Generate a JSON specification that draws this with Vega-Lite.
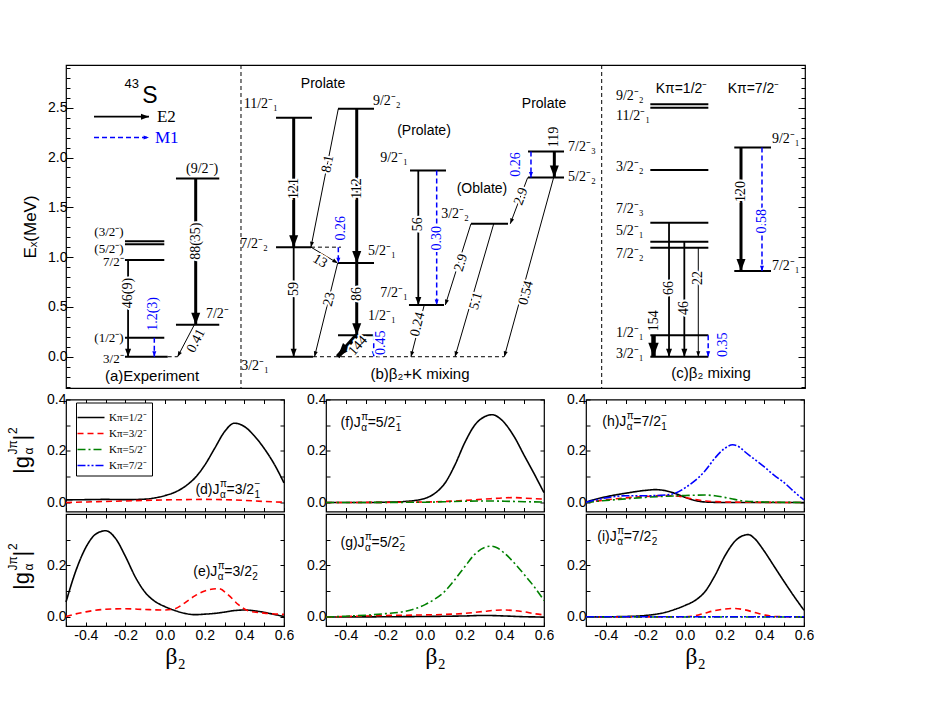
{
"$schema":"https://vega.github.io/schema/vega-lite/v6.json",
"background":"white",
"padding":{"left":6,"top":60,"right":5,"bottom":5},
"config":{
 "view":{"stroke":"black","strokeWidth":1.2},
 "axis":{"domain":false,"grid":false,"labelFont":"Liberation Sans","labelFontSize":14,"labelColor":"black","tickColor":"black","tickWidth":1,"titleFont":"Liberation Sans","titleFontWeight":"normal","titleColor":"black"},
 "text":{"font":"Liberation Sans","color":"black"}
},
"datasets":{
"sep":[{"x":23.68},{"x":72.49}],
"gd":[{"x1":13.76,"x2":15.1,"e":0},{"x1":33.42,"x2":59.27,"e":0},{"x1":33.15,"x2":37.21,"e":1.1}],
"lv":[
{"x1":7.98,"x2":13.3,"e":1.16},{"x1":7.98,"x2":13.3,"e":1.13},{"x1":7.98,"x2":13.3,"e":0.97},{"x1":7.98,"x2":13.3,"e":0.19},{"x1":7.98,"x2":13.76,"e":0},
{"x1":14.88,"x2":20.74,"e":1.79},{"x1":14.88,"x2":20.74,"e":0.32},
{"x1":28.42,"x2":33.29,"e":2.4},{"x1":28.42,"x2":33.15,"e":1.1},{"x1":28.42,"x2":33.42,"e":0},
{"x1":36.81,"x2":41.68,"e":2.49},{"x1":36.81,"x2":41.68,"e":0.94},{"x1":36.81,"x2":41.68,"e":0.215},
{"x1":46.55,"x2":51.42,"e":1.87},{"x1":46.41,"x2":51.15,"e":0.52},{"x1":54.8,"x2":59.81,"e":1.335},
{"x1":62.52,"x2":67.39,"e":2.06},{"x1":62.52,"x2":67.39,"e":1.8},
{"x1":79.07,"x2":86.92,"e":2.534},{"x1":79.07,"x2":86.92,"e":2.5},{"x1":79.07,"x2":86.92,"e":1.875},{"x1":79.07,"x2":86.92,"e":1.345},
{"x1":79.07,"x2":86.92,"e":1.155},{"x1":79.07,"x2":86.92,"e":1.095},{"x1":79.07,"x2":86.92,"e":0.215},{"x1":79.07,"x2":86.92,"e":0},
{"x1":90.43,"x2":95.4,"e":2.1},{"x1":90.43,"x2":95.4,"e":0.86}],
"tr":[
{"t":"E2","I":50,"x1":3.79,"e1":2.41,"x2":11.23,"e2":2.41,"lab":"","lx":0,"le":0},
{"t":"M1","I":0.5,"x1":3.79,"e1":2.2,"x2":11.23,"e2":2.2,"lab":"","lx":0,"le":0},
{"t":"E2","I":46,"x1":8.4,"e1":0.97,"x2":8.4,"e2":0,"lab":"46(9)","lx":8.4,"le":0.64},
{"t":"M1","I":1.2,"x1":11.95,"e1":0.19,"x2":11.95,"e2":0,"lab":"1.2(3)","lx":11.73,"le":0.43},
{"t":"E2","I":88,"x1":17.55,"e1":1.79,"x2":17.55,"e2":0.32,"lab":"88(35)","lx":17.55,"le":1.16},
{"t":"E2","I":0.41,"x1":17.36,"e1":0.32,"x2":15.1,"e2":0,"lab":"0.41","lx":17.6,"le":0.16},
{"t":"E2","I":121,"x1":30.81,"e1":2.4,"x2":30.81,"e2":1.1,"lab":"121","lx":30.81,"le":1.69},
{"t":"E2","I":59,"x1":30.81,"e1":1.1,"x2":30.81,"e2":0,"lab":"59","lx":30.81,"le":0.68},
{"t":"E2","I":112,"x1":39.34,"e1":2.49,"x2":39.34,"e2":0.94,"lab":"112","lx":39.34,"le":1.69},
{"t":"E2","I":86,"x1":39.34,"e1":0.94,"x2":39.34,"e2":0.215,"lab":"86","lx":39.34,"le":0.63},
{"t":"E2","I":144,"x1":39.34,"e1":0.215,"x2":36.76,"e2":0,"lab":"144","lx":39.5,"le":0.11},
{"t":"M1","I":0.45,"x1":41.64,"e1":0.215,"x2":41.64,"e2":0,"lab":"0.45","lx":42.69,"le":0.14},
{"t":"E2","I":8.1,"x1":36.85,"e1":2.49,"x2":33.15,"e2":1.1,"lab":"8.1","lx":35.41,"le":1.935},
{"t":"M1","I":0.26,"x1":36.85,"e1":1.1,"x2":36.85,"e2":0.94,"lab":"0.26","lx":37.21,"le":1.29},
{"t":"E2","I":13,"x1":33.15,"e1":1.1,"x2":36.76,"e2":0.94,"lab":"13","lx":34.37,"le":0.96},
{"t":"E2","I":23,"x1":36.76,"e1":0.94,"x2":33.63,"e2":0,"lab":"23","lx":35.63,"le":0.576},
{"t":"E2","I":56,"x1":47.67,"e1":1.87,"x2":47.67,"e2":0.52,"lab":"56","lx":47.67,"le":1.33},
{"t":"M1","I":0.3,"x1":50.16,"e1":1.87,"x2":50.16,"e2":0.52,"lab":"0.30","lx":50.16,"le":1.19},
{"t":"E2","I":0.24,"x1":48.48,"e1":0.52,"x2":46.68,"e2":0,"lab":"0.24","lx":47.58,"le":0.325},
{"t":"E2","I":2.9,"x1":54.8,"e1":1.335,"x2":51.33,"e2":0.52,"lab":"2.9","lx":53.45,"le":0.944},
{"t":"E2","I":5.1,"x1":57.88,"e1":1.335,"x2":52.64,"e2":0,"lab":"5.1","lx":55.48,"le":0.56},
{"t":"E2","I":119,"x1":66.08,"e1":2.06,"x2":66.08,"e2":1.8,"lab":"119","lx":66.08,"le":2.205},
{"t":"M1","I":0.26,"x1":62.92,"e1":2.06,"x2":62.92,"e2":1.8,"lab":"0.26","lx":60.89,"le":1.93},
{"t":"E2","I":2.9,"x1":62.48,"e1":1.8,"x2":60.12,"e2":1.335,"lab":"2.9","lx":61.57,"le":1.61},
{"t":"E2","I":0.54,"x1":65.99,"e1":1.8,"x2":59.31,"e2":0,"lab":"0.54","lx":62.25,"le":0.64},
{"t":"E2","I":154,"x1":79.5,"e1":0.215,"x2":79.5,"e2":0,"lab":"154","lx":79.5,"le":0.36},
{"t":"E2","I":66,"x1":81.6,"e1":1.345,"x2":81.6,"e2":0,"lab":"66","lx":81.6,"le":0.69},
{"t":"E2","I":46,"x1":83.67,"e1":1.155,"x2":83.67,"e2":0,"lab":"46","lx":83.67,"le":0.49},
{"t":"E2","I":22,"x1":85.56,"e1":1.095,"x2":85.56,"e2":0,"lab":"22","lx":85.56,"le":0.79},
{"t":"M1","I":0.35,"x1":86.9,"e1":0.215,"x2":86.9,"e2":0,"lab":"0.35","lx":88.86,"le":0.12},
{"t":"E2","I":120,"x1":91.34,"e1":2.1,"x2":91.34,"e2":0.86,"lab":"120","lx":91.34,"le":1.66},
{"t":"M1","I":0.58,"x1":94.18,"e1":2.1,"x2":94.18,"e2":0.86,"lab":"0.58","lx":94.18,"le":1.36}],
"tx":[
{"t":"(3/2⁻)","x":7.8,"e":1.25,"k":"r"},{"t":"(5/2⁻)","x":7.8,"e":1.085,"k":"r"},{"t":"7/2⁻","x":7.8,"e":0.95,"k":"r"},
{"t":"(1/2⁻)","x":7.8,"e":0.19,"k":"r"},{"t":"3/2⁻","x":7.8,"e":-0.026,"k":"r"},
{"t":"11/2⁻₁","x":28.69,"e":2.54,"k":"R"},{"t":"9/2⁻₁","x":46.28,"e":1.995,"k":"R"},{"t":"3/2⁻₂","x":54.53,"e":1.43,"k":"R"},
{"t":"7/2⁻₂","x":27.33,"e":1.13,"k":"R"},{"t":"7/2⁻₁","x":46.28,"e":0.64,"k":"R"},{"t":"3/2⁻₁","x":27.47,"e":-0.09,"k":"R"},
{"t":"(9/2⁻)","x":16.24,"e":1.88,"k":"L"},{"t":"7/2⁻","x":18.94,"e":0.43,"k":"L"},
{"t":"9/2⁻₂","x":41.54,"e":2.57,"k":"L"},{"t":"5/2⁻₁","x":40.87,"e":1.06,"k":"L"},{"t":"1/2⁻₁","x":40.87,"e":0.41,"k":"L"},
{"t":"7/2⁻₃","x":67.93,"e":2.105,"k":"L"},{"t":"5/2⁻₂","x":67.93,"e":1.8,"k":"L"},
{"t":"9/2⁻₂","x":74.42,"e":2.62,"k":"L"},{"t":"11/2⁻₁","x":74.42,"e":2.42,"k":"L"},{"t":"3/2⁻₂","x":74.42,"e":1.9,"k":"L"},
{"t":"7/2⁻₃","x":74.42,"e":1.48,"k":"L"},{"t":"5/2⁻₁","x":74.42,"e":1.26,"k":"L"},{"t":"7/2⁻₂","x":74.42,"e":1.03,"k":"L"},
{"t":"1/2⁻₁","x":74.42,"e":0.24,"k":"L"},{"t":"3/2⁻₁","x":74.42,"e":0.03,"k":"L"},
{"t":"9/2⁻₁","x":95.53,"e":2.186,"k":"L"},{"t":"7/2⁻₁","x":95.53,"e":0.91,"k":"L"},
{"t":"Prolate","x":34.78,"e":2.74,"k":"C"},{"t":"(Prolate)","x":48.44,"e":2.27,"k":"C"},{"t":"(Oblate)","x":56.29,"e":1.68,"k":"C"},
{"t":"Prolate","x":64.68,"e":2.54,"k":"C"},{"t":"Kπ=1/2⁻","x":83.29,"e":2.685,"k":"C"},{"t":"Kπ=7/2⁻","x":93.03,"e":2.685,"k":"C"},
{"t":"S","x":11.37,"e":2.62,"k":"S"},{"t":"43","x":8.9,"e":2.74,"k":"N"},
{"t":"E2","x":12.3,"e":2.41,"k":"E"},{"t":"M1","x":12.04,"e":2.2,"k":"M"}],
"cap":[{"t":"(a)Experiment","x":11.64,"e":-0.194},{"t":"(b)β₂+K mixing","x":47.9,"e":-0.174},{"t":"(c)β₂ mixing","x":87.28,"e":-0.16}],
"pl":[
{"p":"d","t":"(d)J","n":"=3/2","s":"1","b":0.153,"v":0.049},
{"p":"e","t":"(e)J","n":"=3/2","s":"2","b":0.142,"v":0.176},
{"p":"f","t":"(f)J","n":"=5/2","s":"1","b":-0.427,"v":0.308},
{"p":"g","t":"(g)J","n":"=5/2","s":"2","b":-0.427,"v":0.286},
{"p":"h","t":"(h)J","n":"=7/2","s":"1","b":-0.418,"v":0.314},
{"p":"i","t":"(i)J","n":"=7/2","s":"2","b":-0.443,"v":0.312}],
"yt":[{"p":"d","b":-0.7195,"v":0.111},{"p":"e","b":-0.7195,"v":0.105}],
"cv":[
{"p":"d","K":"1","b":-0.5,"v":0.010},{"p":"d","K":"1","b":-0.4,"v":0.011},{"p":"d","K":"1","b":-0.3,"v":0.012},{"p":"d","K":"1","b":-0.2,"v":0.011},{"p":"d","K":"1","b":-0.1,"v":0.013},{"p":"d","K":"1","b":-0.05,"v":0.018},{"p":"d","K":"1","b":0,"v":0.027},{"p":"d","K":"1","b":0.05,"v":0.04},{"p":"d","K":"1","b":0.1,"v":0.062},{"p":"d","K":"1","b":0.15,"v":0.095},{"p":"d","K":"1","b":0.2,"v":0.145},{"p":"d","K":"1","b":0.25,"v":0.21},{"p":"d","K":"1","b":0.3,"v":0.275},{"p":"d","K":"1","b":0.35,"v":0.308},{"p":"d","K":"1","b":0.4,"v":0.295},{"p":"d","K":"1","b":0.45,"v":0.259},{"p":"d","K":"1","b":0.5,"v":0.21},{"p":"d","K":"1","b":0.55,"v":0.15},{"p":"d","K":"1","b":0.6,"v":0.076},
{"p":"d","K":"3","b":-0.5,"v":0},{"p":"d","K":"3","b":-0.4,"v":0.002},{"p":"d","K":"3","b":-0.3,"v":0.004},{"p":"d","K":"3","b":-0.2,"v":0.006},{"p":"d","K":"3","b":-0.1,"v":0.008},{"p":"d","K":"3","b":0,"v":0.01},{"p":"d","K":"3","b":0.1,"v":0.011},{"p":"d","K":"3","b":0.2,"v":0.012},{"p":"d","K":"3","b":0.3,"v":0.011},{"p":"d","K":"3","b":0.4,"v":0.008},{"p":"d","K":"3","b":0.5,"v":0.004},{"p":"d","K":"3","b":0.6,"v":0.001},
{"p":"e","K":"1","b":-0.5,"v":0.058},{"p":"e","K":"1","b":-0.45,"v":0.18},{"p":"e","K":"1","b":-0.4,"v":0.27},{"p":"e","K":"1","b":-0.35,"v":0.322},{"p":"e","K":"1","b":-0.3,"v":0.335},{"p":"e","K":"1","b":-0.25,"v":0.305},{"p":"e","K":"1","b":-0.2,"v":0.235},{"p":"e","K":"1","b":-0.15,"v":0.155},{"p":"e","K":"1","b":-0.1,"v":0.095},{"p":"e","K":"1","b":-0.05,"v":0.06},{"p":"e","K":"1","b":0,"v":0.04},{"p":"e","K":"1","b":0.05,"v":0.025},{"p":"e","K":"1","b":0.1,"v":0.014},{"p":"e","K":"1","b":0.15,"v":0.009},{"p":"e","K":"1","b":0.2,"v":0.011},{"p":"e","K":"1","b":0.25,"v":0.014},{"p":"e","K":"1","b":0.3,"v":0.019},{"p":"e","K":"1","b":0.35,"v":0.025},{"p":"e","K":"1","b":0.4,"v":0.027},{"p":"e","K":"1","b":0.45,"v":0.024},{"p":"e","K":"1","b":0.5,"v":0.018},{"p":"e","K":"1","b":0.55,"v":0.01},{"p":"e","K":"1","b":0.6,"v":0.002},
{"p":"e","K":"3","b":-0.5,"v":0.002},{"p":"e","K":"3","b":-0.45,"v":0.012},{"p":"e","K":"3","b":-0.4,"v":0.02},{"p":"e","K":"3","b":-0.3,"v":0.03},{"p":"e","K":"3","b":-0.2,"v":0.032},{"p":"e","K":"3","b":-0.1,"v":0.029},{"p":"e","K":"3","b":0,"v":0.027},{"p":"e","K":"3","b":0.05,"v":0.032},{"p":"e","K":"3","b":0.1,"v":0.055},{"p":"e","K":"3","b":0.15,"v":0.082},{"p":"e","K":"3","b":0.2,"v":0.101},{"p":"e","K":"3","b":0.27,"v":0.11},{"p":"e","K":"3","b":0.32,"v":0.085},{"p":"e","K":"3","b":0.37,"v":0.048},{"p":"e","K":"3","b":0.42,"v":0.024},{"p":"e","K":"3","b":0.5,"v":0.015},{"p":"e","K":"3","b":0.6,"v":0.01},
{"p":"f","K":"1","b":-0.5,"v":0},{"p":"f","K":"1","b":-0.3,"v":0},{"p":"f","K":"1","b":-0.2,"v":0.001},{"p":"f","K":"1","b":-0.1,"v":0.004},{"p":"f","K":"1","b":-0.05,"v":0.008},{"p":"f","K":"1","b":0,"v":0.016},{"p":"f","K":"1","b":0.05,"v":0.036},{"p":"f","K":"1","b":0.1,"v":0.075},{"p":"f","K":"1","b":0.15,"v":0.145},{"p":"f","K":"1","b":0.2,"v":0.232},{"p":"f","K":"1","b":0.25,"v":0.3},{"p":"f","K":"1","b":0.3,"v":0.333},{"p":"f","K":"1","b":0.34,"v":0.341},{"p":"f","K":"1","b":0.38,"v":0.325},{"p":"f","K":"1","b":0.45,"v":0.255},{"p":"f","K":"1","b":0.5,"v":0.183},{"p":"f","K":"1","b":0.55,"v":0.112},{"p":"f","K":"1","b":0.6,"v":0.038},
{"p":"f","K":"3","b":-0.5,"v":0},{"p":"f","K":"3","b":-0.1,"v":0.001},{"p":"f","K":"3","b":0,"v":0.002},{"p":"f","K":"3","b":0.1,"v":0.004},{"p":"f","K":"3","b":0.2,"v":0.008},{"p":"f","K":"3","b":0.3,"v":0.013},{"p":"f","K":"3","b":0.4,"v":0.018},{"p":"f","K":"3","b":0.45,"v":0.019},{"p":"f","K":"3","b":0.5,"v":0.017},{"p":"f","K":"3","b":0.6,"v":0.013},
{"p":"f","K":"5","b":-0.5,"v":0},{"p":"f","K":"5","b":0,"v":0.001},{"p":"f","K":"5","b":0.1,"v":0.003},{"p":"f","K":"5","b":0.2,"v":0.005},{"p":"f","K":"5","b":0.3,"v":0.006},{"p":"f","K":"5","b":0.4,"v":0.005},{"p":"f","K":"5","b":0.5,"v":0.003},{"p":"f","K":"5","b":0.6,"v":0.002},
{"p":"g","K":"1","b":-0.5,"v":0},{"p":"g","K":"1","b":0,"v":0.002},{"p":"g","K":"1","b":0.2,"v":0.004},{"p":"g","K":"1","b":0.3,"v":0.006},{"p":"g","K":"1","b":0.4,"v":0.004},{"p":"g","K":"1","b":0.5,"v":0.001},{"p":"g","K":"1","b":0.6,"v":0},
{"p":"g","K":"3","b":-0.5,"v":0},{"p":"g","K":"3","b":-0.3,"v":0.004},{"p":"g","K":"3","b":-0.2,"v":0.006},{"p":"g","K":"3","b":-0.1,"v":0.007},{"p":"g","K":"3","b":0,"v":0.008},{"p":"g","K":"3","b":0.1,"v":0.01},{"p":"g","K":"3","b":0.2,"v":0.014},{"p":"g","K":"3","b":0.3,"v":0.022},{"p":"g","K":"3","b":0.35,"v":0.026},{"p":"g","K":"3","b":0.4,"v":0.027},{"p":"g","K":"3","b":0.45,"v":0.025},{"p":"g","K":"3","b":0.5,"v":0.02},{"p":"g","K":"3","b":0.55,"v":0.013},{"p":"g","K":"3","b":0.6,"v":0.008},
{"p":"g","K":"5","b":-0.5,"v":0},{"p":"g","K":"5","b":-0.4,"v":0.003},{"p":"g","K":"5","b":-0.3,"v":0.007},{"p":"g","K":"5","b":-0.2,"v":0.013},{"p":"g","K":"5","b":-0.1,"v":0.022},{"p":"g","K":"5","b":-0.05,"v":0.032},{"p":"g","K":"5","b":0,"v":0.048},{"p":"g","K":"5","b":0.05,"v":0.07},{"p":"g","K":"5","b":0.1,"v":0.1},{"p":"g","K":"5","b":0.15,"v":0.145},{"p":"g","K":"5","b":0.2,"v":0.195},{"p":"g","K":"5","b":0.25,"v":0.243},{"p":"g","K":"5","b":0.3,"v":0.27},{"p":"g","K":"5","b":0.33,"v":0.275},{"p":"g","K":"5","b":0.36,"v":0.27},{"p":"g","K":"5","b":0.4,"v":0.248},{"p":"g","K":"5","b":0.45,"v":0.21},{"p":"g","K":"5","b":0.5,"v":0.165},{"p":"g","K":"5","b":0.55,"v":0.118},{"p":"g","K":"5","b":0.6,"v":0.064},
{"p":"h","K":"1","b":-0.5,"v":0.002},{"p":"h","K":"1","b":-0.4,"v":0.022},{"p":"h","K":"1","b":-0.3,"v":0.036},{"p":"h","K":"1","b":-0.2,"v":0.047},{"p":"h","K":"1","b":-0.15,"v":0.05},{"p":"h","K":"1","b":-0.1,"v":0.046},{"p":"h","K":"1","b":-0.05,"v":0.035},{"p":"h","K":"1","b":0,"v":0.02},{"p":"h","K":"1","b":0.05,"v":0.008},{"p":"h","K":"1","b":0.1,"v":0.002},{"p":"h","K":"1","b":0.2,"v":0},{"p":"h","K":"1","b":0.4,"v":0},{"p":"h","K":"1","b":0.6,"v":0},
{"p":"h","K":"3","b":-0.5,"v":0},{"p":"h","K":"3","b":-0.4,"v":0.01},{"p":"h","K":"3","b":-0.3,"v":0.018},{"p":"h","K":"3","b":-0.2,"v":0.023},{"p":"h","K":"3","b":-0.1,"v":0.027},{"p":"h","K":"3","b":0,"v":0.02},{"p":"h","K":"3","b":0.05,"v":0.012},{"p":"h","K":"3","b":0.1,"v":0.006},{"p":"h","K":"3","b":0.2,"v":0.002},{"p":"h","K":"3","b":0.3,"v":0.001},{"p":"h","K":"3","b":0.6,"v":0},
{"p":"h","K":"5","b":-0.5,"v":0},{"p":"h","K":"5","b":-0.4,"v":0.008},{"p":"h","K":"5","b":-0.3,"v":0.014},{"p":"h","K":"5","b":-0.2,"v":0.02},{"p":"h","K":"5","b":-0.1,"v":0.024},{"p":"h","K":"5","b":0,"v":0.027},{"p":"h","K":"5","b":0.1,"v":0.029},{"p":"h","K":"5","b":0.15,"v":0.026},{"p":"h","K":"5","b":0.2,"v":0.02},{"p":"h","K":"5","b":0.25,"v":0.012},{"p":"h","K":"5","b":0.3,"v":0.005},{"p":"h","K":"5","b":0.4,"v":0.002},{"p":"h","K":"5","b":0.6,"v":0},
{"p":"h","K":"7","b":-0.5,"v":0.001},{"p":"h","K":"7","b":-0.4,"v":0.018},{"p":"h","K":"7","b":-0.3,"v":0.026},{"p":"h","K":"7","b":-0.2,"v":0.026},{"p":"h","K":"7","b":-0.1,"v":0.029},{"p":"h","K":"7","b":-0.05,"v":0.036},{"p":"h","K":"7","b":0,"v":0.057},{"p":"h","K":"7","b":0.05,"v":0.085},{"p":"h","K":"7","b":0.1,"v":0.122},{"p":"h","K":"7","b":0.15,"v":0.172},{"p":"h","K":"7","b":0.2,"v":0.21},{"p":"h","K":"7","b":0.24,"v":0.224},{"p":"h","K":"7","b":0.28,"v":0.212},{"p":"h","K":"7","b":0.3,"v":0.198},{"p":"h","K":"7","b":0.35,"v":0.168},{"p":"h","K":"7","b":0.4,"v":0.138},{"p":"h","K":"7","b":0.45,"v":0.105},{"p":"h","K":"7","b":0.5,"v":0.077},{"p":"h","K":"7","b":0.55,"v":0.042},{"p":"h","K":"7","b":0.6,"v":0.01},
{"p":"i","K":"1","b":-0.5,"v":0},{"p":"i","K":"1","b":-0.3,"v":0.002},{"p":"i","K":"1","b":-0.2,"v":0.006},{"p":"i","K":"1","b":-0.1,"v":0.018},{"p":"i","K":"1","b":-0.05,"v":0.03},{"p":"i","K":"1","b":0,"v":0.045},{"p":"i","K":"1","b":0.05,"v":0.064},{"p":"i","K":"1","b":0.1,"v":0.098},{"p":"i","K":"1","b":0.15,"v":0.16},{"p":"i","K":"1","b":0.2,"v":0.236},{"p":"i","K":"1","b":0.25,"v":0.293},{"p":"i","K":"1","b":0.3,"v":0.318},{"p":"i","K":"1","b":0.32,"v":0.32},{"p":"i","K":"1","b":0.35,"v":0.305},{"p":"i","K":"1","b":0.4,"v":0.255},{"p":"i","K":"1","b":0.45,"v":0.196},{"p":"i","K":"1","b":0.5,"v":0.137},{"p":"i","K":"1","b":0.55,"v":0.08},{"p":"i","K":"1","b":0.6,"v":0.026},
{"p":"i","K":"3","b":-0.5,"v":0},{"p":"i","K":"3","b":0,"v":0.001},{"p":"i","K":"3","b":0.05,"v":0.005},{"p":"i","K":"3","b":0.1,"v":0.015},{"p":"i","K":"3","b":0.15,"v":0.025},{"p":"i","K":"3","b":0.2,"v":0.031},{"p":"i","K":"3","b":0.25,"v":0.033},{"p":"i","K":"3","b":0.3,"v":0.028},{"p":"i","K":"3","b":0.35,"v":0.018},{"p":"i","K":"3","b":0.4,"v":0.008},{"p":"i","K":"3","b":0.45,"v":0.002},{"p":"i","K":"3","b":0.6,"v":0},
{"p":"i","K":"5","b":-0.5,"v":0},{"p":"i","K":"5","b":0,"v":0},{"p":"i","K":"5","b":0.6,"v":0},
{"p":"i","K":"7","b":-0.5,"v":0.001},{"p":"i","K":"7","b":0,"v":0.001},{"p":"i","K":"7","b":0.6,"v":0.001}]
},
"spacing":-3.5,
"resolve":{"scale":{"color":"independent","strokeDash":"independent"}},
"vconcat":[
{"width":739,"height":323,
 "layer":[
   {"data":{"name":"sep"},"mark":{"type":"rule","strokeDash":[4,3],"color":"black","strokeWidth":1},
    "encoding":{"x":{"field":"x","type":"quantitative","scale":{"domain":[0,100]},"axis":null}}},
   {"data":{"name":"gd"},"mark":{"type":"rule","strokeDash":[4,3],"color":"black","strokeWidth":1},
    "encoding":{"x":{"field":"x1","type":"quantitative","scale":{"domain":[0,100]},"axis":null},"x2":{"field":"x2"},
     "y":{"field":"e","type":"quantitative","scale":{"domain":[-0.314,2.929]},"axis":null}}},
   {"data":{"name":"lv"},"mark":{"type":"rule","strokeWidth":2,"color":"black"},
    "encoding":{"x":{"field":"x1","type":"quantitative","scale":{"domain":[0,100]},"axis":null},"x2":{"field":"x2"},
     "y":{"field":"e","type":"quantitative","scale":{"domain":[-0.314,2.929]},
      "axis":{"orient":"left","values":[-0.3,-0.2,-0.1,0,0.1,0.2,0.3,0.4,0.5,0.6,0.7,0.8,0.9,1,1.1,1.2,1.3,1.4,1.5,1.6,1.7,1.8,1.9,2,2.1,2.2,2.3,2.4,2.5,2.6,2.7,2.8,2.9],
       "labelExpr":"abs(datum.value*2-round(datum.value*2))<0.01 ? format(datum.value,'.1f') : ''","labelOverlap":false,
       "tickSize":{"condition":{"test":"abs(datum.value*2-round(datum.value*2))<0.01","value":-7},"value":-4},
       "labelPadding":6,"title":"Eₓ(MeV)","titleFontSize":17,"titlePadding":8}}}},
   {"data":{"name":"tr"},"transform":[{"filter":"datum.t=='E2'"}],"mark":{"type":"rule","color":"black"},
    "encoding":{"x":{"field":"x1","type":"quantitative","scale":{"domain":[0,100]},"axis":null},"x2":{"field":"x2"},
     "y":{"field":"e1","type":"quantitative","scale":{"domain":[-0.314,2.929]},"axis":null},"y2":{"field":"e2"},
     "strokeWidth":{"field":"I","type":"quantitative","scale":{"type":"threshold","domain":[30,70,140],"range":[1,1.8,3,4.5]},"legend":null}}},
   {"data":{"name":"tr"},"transform":[{"filter":"datum.t=='M1'"}],"mark":{"type":"rule","color":"#0000ff","strokeDash":[5,3],"strokeWidth":1.5},
    "encoding":{"x":{"field":"x1","type":"quantitative","scale":{"domain":[0,100]},"axis":null},"x2":{"field":"x2"},
     "y":{"field":"e1","type":"quantitative","scale":{"domain":[-0.314,2.929]},"axis":null},"y2":{"field":"e2"}}},
   {"data":{"name":"tr"},"transform":[{"filter":"datum.t=='E2'"},{"calculate":"atan2(-(datum.x2-datum.x1)*7.39, (datum.e1-datum.e2)*99.6)*180/PI","as":"aa"}],
    "mark":{"type":"point","shape":"M0,0L-0.6,-1.6L0.6,-1.6Z","filled":true,"color":"black","opacity":1,"strokeWidth":0},
    "encoding":{"x":{"field":"x2","type":"quantitative","scale":{"domain":[0,100]},"axis":null},
     "y":{"field":"e2","type":"quantitative","scale":{"domain":[-0.314,2.929]},"axis":null},
     "angle":{"field":"aa","type":"quantitative","scale":null},
     "size":{"field":"I","type":"quantitative","scale":{"type":"threshold","domain":[30,70,140],"range":[45,100,225,300]},"legend":null}}},
   {"data":{"name":"tr"},"transform":[{"filter":"datum.t=='M1'"},{"calculate":"atan2(-(datum.x2-datum.x1)*7.39, (datum.e1-datum.e2)*99.6)*180/PI","as":"aa"}],
    "mark":{"type":"point","shape":"M0,0L-0.6,-1.6L0.6,-1.6Z","filled":true,"color":"#0000ff","opacity":1,"strokeWidth":0,"size":45},
    "encoding":{"x":{"field":"x2","type":"quantitative","scale":{"domain":[0,100]},"axis":null},
     "y":{"field":"e2","type":"quantitative","scale":{"domain":[-0.314,2.929]},"axis":null},
     "angle":{"field":"aa","type":"quantitative","scale":null}}},
   {"data":{"name":"tr"},
    "transform":[{"filter":"datum.lab != ''"},{"calculate":"atan2(-(datum.e1-datum.e2)*99.6, -(datum.x2-datum.x1)*7.39)*180/PI","as":"a0"},{"calculate":"datum.a0 < -90.5 ? datum.a0+180 : (datum.a0 > 90.5 ? datum.a0-180 : datum.a0)","as":"ang"}],
    "encoding":{"x":{"field":"lx","type":"quantitative","scale":{"domain":[0,100]},"axis":null},
     "y":{"field":"le","type":"quantitative","scale":{"domain":[-0.314,2.929]},"axis":null},
     "text":{"field":"lab"},"angle":{"field":"ang","type":"quantitative","scale":null}},
    "layer":[
     {"mark":{"type":"text","font":"Liberation Serif","fontSize":14,"align":"center","baseline":"middle","stroke":"white","strokeWidth":4,"color":"white"}},
     {"transform":[{"filter":"datum.t=='E2'"}],"mark":{"type":"text","font":"Liberation Serif","fontSize":14,"align":"center","baseline":"middle","color":"black"}},
     {"transform":[{"filter":"datum.t=='M1'"}],"mark":{"type":"text","font":"Liberation Serif","fontSize":14,"align":"center","baseline":"middle","color":"#0000ff"}}
    ]},
   {"data":{"name":"tx"},
    "encoding":{"x":{"field":"x","type":"quantitative","scale":{"domain":[0,100]},"axis":null},
     "y":{"field":"e","type":"quantitative","scale":{"domain":[-0.314,2.929]},"axis":null},"text":{"field":"t"}},
    "layer":[
     {"transform":[{"filter":"datum.k=='r'"}],"mark":{"type":"text","font":"Liberation Serif","fontSize":13,"align":"right","baseline":"middle"}},
     {"transform":[{"filter":"datum.k=='R'"}],"mark":{"type":"text","font":"Liberation Serif","fontSize":14,"align":"right","baseline":"middle"}},
     {"transform":[{"filter":"datum.k=='L'"}],"mark":{"type":"text","font":"Liberation Serif","fontSize":14,"align":"left","baseline":"middle"}},
     {"transform":[{"filter":"datum.k=='C'"}],"mark":{"type":"text","font":"Liberation Sans","fontSize":14,"align":"center","baseline":"middle"}},
     {"transform":[{"filter":"datum.k=='S'"}],"mark":{"type":"text","font":"Liberation Sans","fontSize":23,"align":"center","baseline":"middle"}},
     {"transform":[{"filter":"datum.k=='N'"}],"mark":{"type":"text","font":"Liberation Sans","fontSize":13,"align":"center","baseline":"middle"}},
     {"transform":[{"filter":"datum.k=='E'"}],"mark":{"type":"text","font":"Liberation Serif","fontSize":17,"align":"left","baseline":"middle"}},
     {"transform":[{"filter":"datum.k=='M'"}],"mark":{"type":"text","font":"Liberation Serif","fontSize":17,"align":"left","baseline":"middle","color":"#0000ff"}}
    ]},
   {"data":{"name":"cap"},"mark":{"type":"text","font":"Liberation Sans","fontSize":15,"align":"center","baseline":"middle"},
    "encoding":{"x":{"field":"x","type":"quantitative","scale":{"domain":[0,100]},"axis":null},
     "y":{"field":"e","type":"quantitative","scale":{"domain":[-0.314,2.929]},
      "axis":{"orient":"right","values":[-0.3,-0.2,-0.1,0,0.1,0.2,0.3,0.4,0.5,0.6,0.7,0.8,0.9,1,1.1,1.2,1.3,1.4,1.5,1.6,1.7,1.8,1.9,2,2.1,2.2,2.3,2.4,2.5,2.6,2.7,2.8,2.9],"labels":false,
       "tickSize":{"condition":{"test":"abs(datum.value*2-round(datum.value*2))<0.01","value":-7},"value":-4},"title":null}},
     "text":{"field":"t"}}}
 ],
 "resolve":{"scale":{"y":"independent"}}
},
{"columns":3,"spacing":{"row":2.5,"column":42},"bounds":"flush",
 "resolve":{"scale":{"color":"independent","strokeDash":"independent"}},
 "concat":[
  {"width":218,"height":112,
   "layer":[
     {"data":{"name":"cv"},"transform":[{"filter":"datum.p=='d'"}],"mark":{"type":"line","strokeWidth":1.6,"interpolate":"monotone"},
      "encoding":{"x":{"field":"b","type":"quantitative","scale":{"domain":[-0.5,0.6]},"axis":{"orient":"bottom","values":[-0.5,-0.4,-0.3,-0.2,-0.1,0,0.1,0.2,0.3,0.4,0.5,0.6],"labels":false,"tickSize":-4,"title":null}},
       "y":{"field":"v","type":"quantitative","scale":{"domain":[-0.035,0.4]},"axis":{"orient":"left","values":[0,0.1,0.2,0.3,0.4],"labelExpr":"abs(datum.value*5-round(datum.value*5))<0.01 ? format(datum.value,'.1f') : ''","labelOverlap":false,"tickSize":-4,"labelPadding":4,"title":null}},
       "color":{"field":"K","type":"nominal","scale":{"domain":["1","3","5","7"],"range":["#000000","#ff0000","#008000","#0000ff"]},
        "legend":{"orient":"none","legendX":10,"legendY":3,"title":null,"symbolType":"M-1.5,0L1.5,0","symbolSize":324,"symbolStrokeWidth":1.6,"labelFont":"Liberation Serif","labelFontSize":11,"labelColor":"black","labelExpr":"'Kπ=' + datum.label + '/2⁻'","strokeColor":"black","fillColor":"white","padding":5,"rowPadding":1,"labelOffset":8}},
       "strokeDash":{"field":"K","type":"nominal","scale":{"domain":["1","3","5","7"],"range":[[1,0],[6,4],[8,3,2,3],[8,2,2,2,2,2]]},
        "legend":{"orient":"none","legendX":10,"legendY":3,"title":null,"symbolType":"M-1.5,0L1.5,0","symbolSize":324,"symbolStrokeWidth":1.6,"labelFont":"Liberation Serif","labelFontSize":11,"labelColor":"black","labelExpr":"'Kπ=' + datum.label + '/2⁻'","strokeColor":"black","fillColor":"white","padding":5,"rowPadding":1,"labelOffset":8}}}},
     {"data":{"name":"pl"},"transform":[{"filter":"datum.p=='d'"}],
      "encoding":{"x":{"field":"b","type":"quantitative","scale":{"domain":[-0.5,0.6]},"axis":null},"y":{"field":"v","type":"quantitative","scale":{"domain":[-0.035,0.4]},"axis":null}},
      "layer":[
       {"mark":{"type":"text","align":"left","baseline":"middle","fontSize":14},"encoding":{"text":{"field":"t"}}},
       {"mark":{"type":"text","align":"left","baseline":"middle","fontSize":10,"dx":24.6,"dy":-6},"encoding":{"text":{"value":"π"}}},
       {"mark":{"type":"text","align":"left","baseline":"middle","fontSize":10,"dx":24.6,"dy":5},"encoding":{"text":{"value":"α"}}},
       {"mark":{"type":"text","align":"left","baseline":"middle","fontSize":14,"dx":31.1},"encoding":{"text":{"field":"n"}}},
       {"mark":{"type":"text","align":"left","baseline":"middle","fontSize":10,"dx":59.1,"dy":-6},"encoding":{"text":{"value":"−"}}},
       {"mark":{"type":"text","align":"left","baseline":"middle","fontSize":10,"dx":59.1,"dy":5},"encoding":{"text":{"field":"s"}}}
      ]},
     {"data":{"name":"yt"},"transform":[{"filter":"datum.p=='d'"}],
      "encoding":{"x":{"field":"b","type":"quantitative","scale":{"domain":[-0.5,0.6]},"axis":null},"y":{"field":"v","type":"quantitative","scale":{"domain":[-0.035,0.4]},"axis":null}},
      "layer":[
       {"mark":{"type":"text","align":"left","baseline":"middle","angle":270,"fontSize":22},"encoding":{"text":{"value":"|g"}}},
       {"mark":{"type":"text","align":"left","baseline":"middle","angle":270,"fontSize":12,"dx":19.5,"dy":-9},"encoding":{"text":{"value":"Jπ"}}},
       {"mark":{"type":"text","align":"left","baseline":"middle","angle":270,"fontSize":12,"dx":19.5,"dy":7},"encoding":{"text":{"value":"α"}}},
       {"mark":{"type":"text","align":"left","baseline":"middle","angle":270,"fontSize":22,"dx":33.5},"encoding":{"text":{"value":"|"}}},
       {"mark":{"type":"text","align":"left","baseline":"middle","angle":270,"fontSize":12,"dx":40,"dy":-9},"encoding":{"text":{"value":"2"}}}
      ]},
    {"data":{"name":"pl"},"transform":[{"filter":"datum.p=='d'"}],"mark":{"type":"text","opacity":0},
     "encoding":{"x":{"field":"b","type":"quantitative","scale":{"domain":[-0.5,0.6]},"axis":{"orient":"top","values":[-0.5,-0.4,-0.3,-0.2,-0.1,0,0.1,0.2,0.3,0.4,0.5,0.6],"labels":false,"tickSize":-4,"title":null}},
      "y":{"field":"v","type":"quantitative","scale":{"domain":[-0.035,0.4]},"axis":{"orient":"right","values":[0,0.1,0.2,0.3,0.4],"labels":false,"tickSize":-4,"title":null}},"text":{"field":"t"}}}
   ],
   "resolve":{"scale":{"x":"independent","y":"independent"}}},
  {"width":218,"height":112,
   "layer":[
     {"data":{"name":"cv"},"transform":[{"filter":"datum.p=='f'"}],"mark":{"type":"line","strokeWidth":1.6,"interpolate":"monotone"},
      "encoding":{"x":{"field":"b","type":"quantitative","scale":{"domain":[-0.5,0.6]},"axis":{"orient":"bottom","values":[-0.5,-0.4,-0.3,-0.2,-0.1,0,0.1,0.2,0.3,0.4,0.5,0.6],"labels":false,"tickSize":-4,"title":null}},
       "y":{"field":"v","type":"quantitative","scale":{"domain":[-0.035,0.4]},"axis":{"orient":"left","values":[0,0.1,0.2,0.3,0.4],"labelExpr":"abs(datum.value*5-round(datum.value*5))<0.01 ? format(datum.value,'.1f') : ''","labelOverlap":false,"tickSize":-4,"labelPadding":4,"title":null}},
       "color":{"field":"K","type":"nominal","scale":{"domain":["1","3","5","7"],"range":["#000000","#ff0000","#008000","#0000ff"]},"legend":null},
       "strokeDash":{"field":"K","type":"nominal","scale":{"domain":["1","3","5","7"],"range":[[1,0],[6,4],[8,3,2,3],[8,2,2,2,2,2]]},"legend":null}}},
     {"data":{"name":"pl"},"transform":[{"filter":"datum.p=='f'"}],
      "encoding":{"x":{"field":"b","type":"quantitative","scale":{"domain":[-0.5,0.6]},"axis":null},"y":{"field":"v","type":"quantitative","scale":{"domain":[-0.035,0.4]},"axis":null}},
      "layer":[
       {"mark":{"type":"text","align":"left","baseline":"middle","fontSize":14},"encoding":{"text":{"field":"t"}}},
       {"mark":{"type":"text","align":"left","baseline":"middle","fontSize":10,"dx":20.7,"dy":-6},"encoding":{"text":{"value":"π"}}},
       {"mark":{"type":"text","align":"left","baseline":"middle","fontSize":10,"dx":20.7,"dy":5},"encoding":{"text":{"value":"α"}}},
       {"mark":{"type":"text","align":"left","baseline":"middle","fontSize":14,"dx":27.2},"encoding":{"text":{"field":"n"}}},
       {"mark":{"type":"text","align":"left","baseline":"middle","fontSize":10,"dx":55.2,"dy":-6},"encoding":{"text":{"value":"−"}}},
       {"mark":{"type":"text","align":"left","baseline":"middle","fontSize":10,"dx":55.2,"dy":5},"encoding":{"text":{"field":"s"}}}
      ]},
    {"data":{"name":"pl"},"transform":[{"filter":"datum.p=='f'"}],"mark":{"type":"text","opacity":0},
     "encoding":{"x":{"field":"b","type":"quantitative","scale":{"domain":[-0.5,0.6]},"axis":{"orient":"top","values":[-0.5,-0.4,-0.3,-0.2,-0.1,0,0.1,0.2,0.3,0.4,0.5,0.6],"labels":false,"tickSize":-4,"title":null}},
      "y":{"field":"v","type":"quantitative","scale":{"domain":[-0.035,0.4]},"axis":{"orient":"right","values":[0,0.1,0.2,0.3,0.4],"labels":false,"tickSize":-4,"title":null}},"text":{"field":"t"}}}
   ],
   "resolve":{"scale":{"x":"independent","y":"independent"}}},
  {"width":218,"height":112,
   "layer":[
     {"data":{"name":"cv"},"transform":[{"filter":"datum.p=='h'"}],"mark":{"type":"line","strokeWidth":1.6,"interpolate":"monotone"},
      "encoding":{"x":{"field":"b","type":"quantitative","scale":{"domain":[-0.5,0.6]},"axis":{"orient":"bottom","values":[-0.5,-0.4,-0.3,-0.2,-0.1,0,0.1,0.2,0.3,0.4,0.5,0.6],"labels":false,"tickSize":-4,"title":null}},
       "y":{"field":"v","type":"quantitative","scale":{"domain":[-0.035,0.4]},"axis":{"orient":"left","values":[0,0.1,0.2,0.3,0.4],"labelExpr":"abs(datum.value*5-round(datum.value*5))<0.01 ? format(datum.value,'.1f') : ''","labelOverlap":false,"tickSize":-4,"labelPadding":4,"title":null}},
       "color":{"field":"K","type":"nominal","scale":{"domain":["1","3","5","7"],"range":["#000000","#ff0000","#008000","#0000ff"]},"legend":null},
       "strokeDash":{"field":"K","type":"nominal","scale":{"domain":["1","3","5","7"],"range":[[1,0],[6,4],[8,3,2,3],[8,2,2,2,2,2]]},"legend":null}}},
     {"data":{"name":"pl"},"transform":[{"filter":"datum.p=='h'"}],
      "encoding":{"x":{"field":"b","type":"quantitative","scale":{"domain":[-0.5,0.6]},"axis":null},"y":{"field":"v","type":"quantitative","scale":{"domain":[-0.035,0.4]},"axis":null}},
      "layer":[
       {"mark":{"type":"text","align":"left","baseline":"middle","fontSize":14},"encoding":{"text":{"field":"t"}}},
       {"mark":{"type":"text","align":"left","baseline":"middle","fontSize":10,"dx":24.6,"dy":-6},"encoding":{"text":{"value":"π"}}},
       {"mark":{"type":"text","align":"left","baseline":"middle","fontSize":10,"dx":24.6,"dy":5},"encoding":{"text":{"value":"α"}}},
       {"mark":{"type":"text","align":"left","baseline":"middle","fontSize":14,"dx":31.1},"encoding":{"text":{"field":"n"}}},
       {"mark":{"type":"text","align":"left","baseline":"middle","fontSize":10,"dx":59.1,"dy":-6},"encoding":{"text":{"value":"−"}}},
       {"mark":{"type":"text","align":"left","baseline":"middle","fontSize":10,"dx":59.1,"dy":5},"encoding":{"text":{"field":"s"}}}
      ]},
    {"data":{"name":"pl"},"transform":[{"filter":"datum.p=='h'"}],"mark":{"type":"text","opacity":0},
     "encoding":{"x":{"field":"b","type":"quantitative","scale":{"domain":[-0.5,0.6]},"axis":{"orient":"top","values":[-0.5,-0.4,-0.3,-0.2,-0.1,0,0.1,0.2,0.3,0.4,0.5,0.6],"labels":false,"tickSize":-4,"title":null}},
      "y":{"field":"v","type":"quantitative","scale":{"domain":[-0.035,0.4]},"axis":{"orient":"right","values":[0,0.1,0.2,0.3,0.4],"labels":false,"tickSize":-4,"title":null}},"text":{"field":"t"}}}
   ],
   "resolve":{"scale":{"x":"independent","y":"independent"}}},
  {"width":218,"height":112,
   "layer":[
     {"data":{"name":"cv"},"transform":[{"filter":"datum.p=='e'"}],"mark":{"type":"line","strokeWidth":1.6,"interpolate":"monotone"},
      "encoding":{"x":{"field":"b","type":"quantitative","scale":{"domain":[-0.5,0.6]},"axis":{"orient":"bottom","values":[-0.5,-0.4,-0.3,-0.2,-0.1,0,0.1,0.2,0.3,0.4,0.5,0.6],"labelExpr":"abs(datum.value*5-round(datum.value*5))<0.01 && datum.value>-0.45 ? replace(format(datum.value,'.1f'),'−','-') : ''","labelFlush":false,"labelOverlap":false,"tickSize":-4,"labelPadding":6,"title":"β₂","titleFont":"Liberation Serif","titleFontSize":24,"titlePadding":2}},
       "y":{"field":"v","type":"quantitative","scale":{"domain":[-0.035,0.4]},"axis":{"orient":"left","values":[0,0.1,0.2,0.3,0.4],"labelExpr":"abs(datum.value*5-round(datum.value*5))<0.01 && datum.value<0.3 ? format(datum.value,'.1f') : ''","labelOverlap":false,"tickSize":-4,"labelPadding":4,"title":null}},
       "color":{"field":"K","type":"nominal","scale":{"domain":["1","3","5","7"],"range":["#000000","#ff0000","#008000","#0000ff"]},"legend":null},
       "strokeDash":{"field":"K","type":"nominal","scale":{"domain":["1","3","5","7"],"range":[[1,0],[6,4],[8,3,2,3],[8,2,2,2,2,2]]},"legend":null}}},
     {"data":{"name":"pl"},"transform":[{"filter":"datum.p=='e'"}],
      "encoding":{"x":{"field":"b","type":"quantitative","scale":{"domain":[-0.5,0.6]},"axis":null},"y":{"field":"v","type":"quantitative","scale":{"domain":[-0.035,0.4]},"axis":null}},
      "layer":[
       {"mark":{"type":"text","align":"left","baseline":"middle","fontSize":14},"encoding":{"text":{"field":"t"}}},
       {"mark":{"type":"text","align":"left","baseline":"middle","fontSize":10,"dx":24.6,"dy":-6},"encoding":{"text":{"value":"π"}}},
       {"mark":{"type":"text","align":"left","baseline":"middle","fontSize":10,"dx":24.6,"dy":5},"encoding":{"text":{"value":"α"}}},
       {"mark":{"type":"text","align":"left","baseline":"middle","fontSize":14,"dx":31.1},"encoding":{"text":{"field":"n"}}},
       {"mark":{"type":"text","align":"left","baseline":"middle","fontSize":10,"dx":59.1,"dy":-6},"encoding":{"text":{"value":"−"}}},
       {"mark":{"type":"text","align":"left","baseline":"middle","fontSize":10,"dx":59.1,"dy":5},"encoding":{"text":{"field":"s"}}}
      ]},
     {"data":{"name":"yt"},"transform":[{"filter":"datum.p=='e'"}],
      "encoding":{"x":{"field":"b","type":"quantitative","scale":{"domain":[-0.5,0.6]},"axis":null},"y":{"field":"v","type":"quantitative","scale":{"domain":[-0.035,0.4]},"axis":null}},
      "layer":[
       {"mark":{"type":"text","align":"left","baseline":"middle","angle":270,"fontSize":22},"encoding":{"text":{"value":"|g"}}},
       {"mark":{"type":"text","align":"left","baseline":"middle","angle":270,"fontSize":12,"dx":19.5,"dy":-9},"encoding":{"text":{"value":"Jπ"}}},
       {"mark":{"type":"text","align":"left","baseline":"middle","angle":270,"fontSize":12,"dx":19.5,"dy":7},"encoding":{"text":{"value":"α"}}},
       {"mark":{"type":"text","align":"left","baseline":"middle","angle":270,"fontSize":22,"dx":33.5},"encoding":{"text":{"value":"|"}}},
       {"mark":{"type":"text","align":"left","baseline":"middle","angle":270,"fontSize":12,"dx":40,"dy":-9},"encoding":{"text":{"value":"2"}}}
      ]},
    {"data":{"name":"pl"},"transform":[{"filter":"datum.p=='e'"}],"mark":{"type":"text","opacity":0},
     "encoding":{"x":{"field":"b","type":"quantitative","scale":{"domain":[-0.5,0.6]},"axis":{"orient":"top","values":[-0.5,-0.4,-0.3,-0.2,-0.1,0,0.1,0.2,0.3,0.4,0.5,0.6],"labels":false,"tickSize":-4,"title":null}},
      "y":{"field":"v","type":"quantitative","scale":{"domain":[-0.035,0.4]},"axis":{"orient":"right","values":[0,0.1,0.2,0.3,0.4],"labels":false,"tickSize":-4,"title":null}},"text":{"field":"t"}}}
   ],
   "resolve":{"scale":{"x":"independent","y":"independent"}}},
  {"width":218,"height":112,
   "layer":[
     {"data":{"name":"cv"},"transform":[{"filter":"datum.p=='g'"}],"mark":{"type":"line","strokeWidth":1.6,"interpolate":"monotone"},
      "encoding":{"x":{"field":"b","type":"quantitative","scale":{"domain":[-0.5,0.6]},"axis":{"orient":"bottom","values":[-0.5,-0.4,-0.3,-0.2,-0.1,0,0.1,0.2,0.3,0.4,0.5,0.6],"labelExpr":"abs(datum.value*5-round(datum.value*5))<0.01 && datum.value>-0.45 ? replace(format(datum.value,'.1f'),'−','-') : ''","labelFlush":false,"labelOverlap":false,"tickSize":-4,"labelPadding":6,"title":"β₂","titleFont":"Liberation Serif","titleFontSize":24,"titlePadding":2}},
       "y":{"field":"v","type":"quantitative","scale":{"domain":[-0.035,0.4]},"axis":{"orient":"left","values":[0,0.1,0.2,0.3,0.4],"labelExpr":"abs(datum.value*5-round(datum.value*5))<0.01 && datum.value<0.3 ? format(datum.value,'.1f') : ''","labelOverlap":false,"tickSize":-4,"labelPadding":4,"title":null}},
       "color":{"field":"K","type":"nominal","scale":{"domain":["1","3","5","7"],"range":["#000000","#ff0000","#008000","#0000ff"]},"legend":null},
       "strokeDash":{"field":"K","type":"nominal","scale":{"domain":["1","3","5","7"],"range":[[1,0],[6,4],[8,3,2,3],[8,2,2,2,2,2]]},"legend":null}}},
     {"data":{"name":"pl"},"transform":[{"filter":"datum.p=='g'"}],
      "encoding":{"x":{"field":"b","type":"quantitative","scale":{"domain":[-0.5,0.6]},"axis":null},"y":{"field":"v","type":"quantitative","scale":{"domain":[-0.035,0.4]},"axis":null}},
      "layer":[
       {"mark":{"type":"text","align":"left","baseline":"middle","fontSize":14},"encoding":{"text":{"field":"t"}}},
       {"mark":{"type":"text","align":"left","baseline":"middle","fontSize":10,"dx":24.6,"dy":-6},"encoding":{"text":{"value":"π"}}},
       {"mark":{"type":"text","align":"left","baseline":"middle","fontSize":10,"dx":24.6,"dy":5},"encoding":{"text":{"value":"α"}}},
       {"mark":{"type":"text","align":"left","baseline":"middle","fontSize":14,"dx":31.1},"encoding":{"text":{"field":"n"}}},
       {"mark":{"type":"text","align":"left","baseline":"middle","fontSize":10,"dx":59.1,"dy":-6},"encoding":{"text":{"value":"−"}}},
       {"mark":{"type":"text","align":"left","baseline":"middle","fontSize":10,"dx":59.1,"dy":5},"encoding":{"text":{"field":"s"}}}
      ]},
    {"data":{"name":"pl"},"transform":[{"filter":"datum.p=='g'"}],"mark":{"type":"text","opacity":0},
     "encoding":{"x":{"field":"b","type":"quantitative","scale":{"domain":[-0.5,0.6]},"axis":{"orient":"top","values":[-0.5,-0.4,-0.3,-0.2,-0.1,0,0.1,0.2,0.3,0.4,0.5,0.6],"labels":false,"tickSize":-4,"title":null}},
      "y":{"field":"v","type":"quantitative","scale":{"domain":[-0.035,0.4]},"axis":{"orient":"right","values":[0,0.1,0.2,0.3,0.4],"labels":false,"tickSize":-4,"title":null}},"text":{"field":"t"}}}
   ],
   "resolve":{"scale":{"x":"independent","y":"independent"}}},
  {"width":218,"height":112,
   "layer":[
     {"data":{"name":"cv"},"transform":[{"filter":"datum.p=='i'"}],"mark":{"type":"line","strokeWidth":1.6,"interpolate":"monotone"},
      "encoding":{"x":{"field":"b","type":"quantitative","scale":{"domain":[-0.5,0.6]},"axis":{"orient":"bottom","values":[-0.5,-0.4,-0.3,-0.2,-0.1,0,0.1,0.2,0.3,0.4,0.5,0.6],"labelExpr":"abs(datum.value*5-round(datum.value*5))<0.01 && datum.value>-0.45 ? replace(format(datum.value,'.1f'),'−','-') : ''","labelFlush":false,"labelOverlap":false,"tickSize":-4,"labelPadding":6,"title":"β₂","titleFont":"Liberation Serif","titleFontSize":24,"titlePadding":2}},
       "y":{"field":"v","type":"quantitative","scale":{"domain":[-0.035,0.4]},"axis":{"orient":"left","values":[0,0.1,0.2,0.3,0.4],"labelExpr":"abs(datum.value*5-round(datum.value*5))<0.01 && datum.value<0.3 ? format(datum.value,'.1f') : ''","labelOverlap":false,"tickSize":-4,"labelPadding":4,"title":null}},
       "color":{"field":"K","type":"nominal","scale":{"domain":["1","3","5","7"],"range":["#000000","#ff0000","#008000","#0000ff"]},"legend":null},
       "strokeDash":{"field":"K","type":"nominal","scale":{"domain":["1","3","5","7"],"range":[[1,0],[6,4],[8,3,2,3],[8,2,2,2,2,2]]},"legend":null}}},
     {"data":{"name":"pl"},"transform":[{"filter":"datum.p=='i'"}],
      "encoding":{"x":{"field":"b","type":"quantitative","scale":{"domain":[-0.5,0.6]},"axis":null},"y":{"field":"v","type":"quantitative","scale":{"domain":[-0.035,0.4]},"axis":null}},
      "layer":[
       {"mark":{"type":"text","align":"left","baseline":"middle","fontSize":14},"encoding":{"text":{"field":"t"}}},
       {"mark":{"type":"text","align":"left","baseline":"middle","fontSize":10,"dx":19.9,"dy":-6},"encoding":{"text":{"value":"π"}}},
       {"mark":{"type":"text","align":"left","baseline":"middle","fontSize":10,"dx":19.9,"dy":5},"encoding":{"text":{"value":"α"}}},
       {"mark":{"type":"text","align":"left","baseline":"middle","fontSize":14,"dx":26.4},"encoding":{"text":{"field":"n"}}},
       {"mark":{"type":"text","align":"left","baseline":"middle","fontSize":10,"dx":54.4,"dy":-6},"encoding":{"text":{"value":"−"}}},
       {"mark":{"type":"text","align":"left","baseline":"middle","fontSize":10,"dx":54.4,"dy":5},"encoding":{"text":{"field":"s"}}}
      ]},
    {"data":{"name":"pl"},"transform":[{"filter":"datum.p=='i'"}],"mark":{"type":"text","opacity":0},
     "encoding":{"x":{"field":"b","type":"quantitative","scale":{"domain":[-0.5,0.6]},"axis":{"orient":"top","values":[-0.5,-0.4,-0.3,-0.2,-0.1,0,0.1,0.2,0.3,0.4,0.5,0.6],"labels":false,"tickSize":-4,"title":null}},
      "y":{"field":"v","type":"quantitative","scale":{"domain":[-0.035,0.4]},"axis":{"orient":"right","values":[0,0.1,0.2,0.3,0.4],"labels":false,"tickSize":-4,"title":null}},"text":{"field":"t"}}}
   ],
   "resolve":{"scale":{"x":"independent","y":"independent"}}}
 ]}
]
}
